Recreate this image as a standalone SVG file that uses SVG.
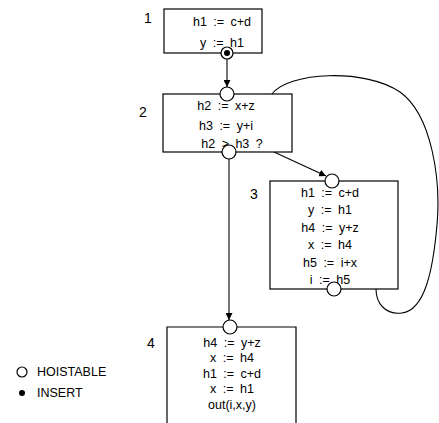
<svg xmlns="http://www.w3.org/2000/svg" width="439" height="423" viewBox="0 0 439 423">
<style>
.box{fill:#fff;stroke:#000;stroke-width:1.2}
.t{font-family:"Liberation Sans",Arial,sans-serif;font-size:12.5px;fill:#000;text-anchor:middle;word-spacing:3px}
.lbl{font-family:"Liberation Sans",Arial,sans-serif;font-size:14px;fill:#000;text-anchor:middle}
.leg{font-family:"Liberation Sans",Arial,sans-serif;font-size:12.5px;fill:#000}
.hc{fill:#fff;stroke:#000;stroke-width:1.2}
.edge{fill:none;stroke:#000;stroke-width:1.1}
</style>
<defs>
<marker id="ah" viewBox="0 0 10 10" refX="10" refY="5" markerWidth="7" markerHeight="7" orient="auto" markerUnits="userSpaceOnUse">
<path d="M0,0 L10,5 L0,10 z" fill="#000"/>
</marker>
</defs>
<g id="connectors">
<line class="edge" x1="227" y1="59" x2="227" y2="87" marker-end="url(#ah)"/>
<line class="edge" x1="229" y1="159" x2="229" y2="320" marker-end="url(#ah)"/>
<line class="edge" x1="274" y1="152" x2="326" y2="176" marker-end="url(#ah)"/>
<path class="edge" d="M272,94 C288,72 365,68 400,92 C432,115 441,180 437,225 C433,270 425,310 402,313 C385,315 376,303 376,289"/>
</g>
<g id="node1">
<text class="lbl" x="148" y="23">1</text>
<rect class="box" x="164" y="9" width="98" height="44"/>
<text class="t" x="222" y="26">h1 := c+d</text>
<text class="t" x="222" y="47">y := h1</text>
<circle class="hc" cx="227" cy="53" r="6"/>
<circle cx="227" cy="53" r="3" fill="#000"/>
</g>
<g id="node2">
<text class="lbl" x="143" y="117">2</text>
<rect class="box" x="163" y="94" width="129" height="58"/>
<text class="t" x="226" y="110">h2 := x+z</text>
<text class="t" x="226" y="130">h3 := y+i</text>
<text class="t" x="232" y="148">h2 &gt; h3 ?</text>
<circle class="hc" cx="227" cy="94" r="7"/>
<circle class="hc" cx="229" cy="152" r="7"/>
</g>
<g id="node3">
<text class="lbl" x="254" y="199">3</text>
<rect class="box" x="270" y="181" width="128" height="108"/>
<text class="t" x="330" y="197">h1 := c+d</text>
<text class="t" x="330" y="214">y := h1</text>
<text class="t" x="330" y="232">h4 := y+z</text>
<text class="t" x="330" y="249">x := h4</text>
<text class="t" x="330" y="267">h5 := i+x</text>
<text class="t" x="330" y="284">i := h5</text>
<circle class="hc" cx="332" cy="181" r="7"/>
<circle class="hc" cx="334" cy="289" r="7"/>
</g>
<g id="node4">
<text class="lbl" x="151" y="348">4</text>
<path class="box" d="M167,424 L167,327 L296,327 L296,424"/>
<text class="t" x="232" y="347">h4 := y+z</text>
<text class="t" x="232" y="362">x := h4</text>
<text class="t" x="232" y="378">h1 := c+d</text>
<text class="t" x="232" y="393">x := h1</text>
<text class="t" x="232" y="409">out(i,x,y)</text>
<circle class="hc" cx="230" cy="327" r="7"/>
</g>
<g id="legend">
<circle class="hc" cx="22" cy="372" r="5"/>
<text class="leg" x="37" y="376">HOISTABLE</text>
<circle cx="22" cy="393" r="3" fill="#000"/>
<text class="leg" x="37" y="397">INSERT</text>
</g>
</svg>
